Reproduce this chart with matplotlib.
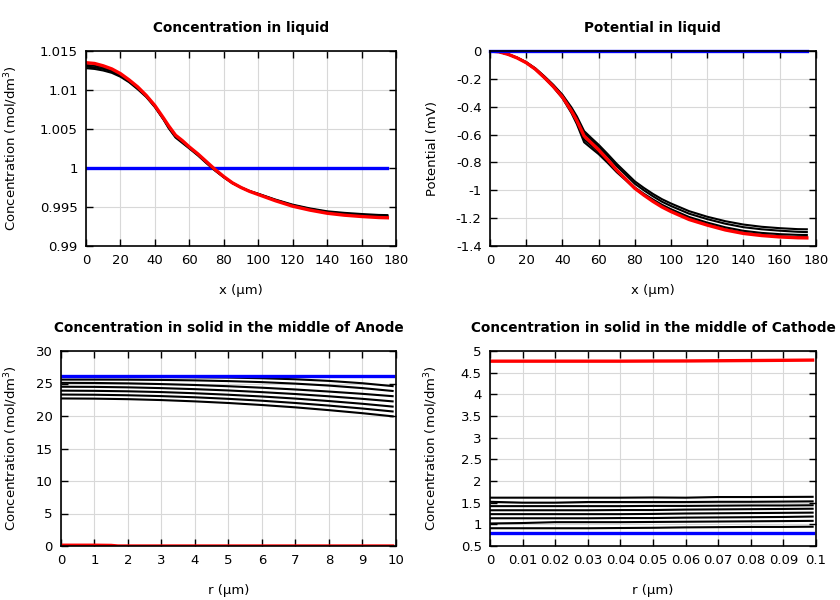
import matplotlib
matplotlib.use("Agg")
import matplotlib.pyplot as plt
from matplotlib.ticker import FuncFormatter, MultipleLocator

plt.rcParams['font.family'] = ['DejaVu Sans']

# ---------------- data ----------------
# Top-left: concentration in liquid vs x (um)
x_liq = [0, 5, 10, 15, 20, 25, 30, 35, 40, 45, 48, 52, 56, 60, 65, 70, 75, 80, 85, 90,
         95, 100, 110, 120, 130, 140, 150, 160, 170, 175]
c_liq_init = [1.0] * len(x_liq)
c_liq_mid = [
    [1.0128, 1.0127, 1.0125, 1.0122, 1.0117, 1.0110, 1.0101, 1.0091, 1.0078, 1.0062, 1.0051, 1.0039,
     1.0032, 1.0025, 1.0016, 1.0006, 0.99965, 0.9988, 0.99805, 0.9975, 0.99705, 0.9967, 0.99595,
     0.9953, 0.99482, 0.99445, 0.99425, 0.9941, 0.99398, 0.99396],
    [1.0130, 1.0129, 1.0127, 1.0124, 1.0118, 1.0111, 1.0102, 1.0092, 1.0079, 1.0063, 1.0052, 1.0040,
     1.0033, 1.0026, 1.0017, 1.0007, 0.9997, 0.99885, 0.99808, 0.9975, 0.99703, 0.99667, 0.9959,
     0.99523, 0.99475, 0.99437, 0.99415, 0.9940, 0.99388, 0.99385],
    [1.0132, 1.0131, 1.0129, 1.0125, 1.0119, 1.0112, 1.0103, 1.0092, 1.0079, 1.0063, 1.0053, 1.0041,
     1.0034, 1.0026, 1.0017, 1.0007, 0.99975, 0.99885, 0.9981, 0.9975, 0.9970, 0.99663, 0.99585,
     0.99517, 0.99467, 0.99428, 0.99405, 0.99388, 0.99378, 0.99375],
]
c_liq_final = [1.0135, 1.0134, 1.0131, 1.0127, 1.0121, 1.0113, 1.0104, 1.0093, 1.0080, 1.0064, 1.0054,
               1.0042, 1.0035, 1.0027, 1.0018, 1.0008, 0.9998, 0.9989, 0.9981, 0.9975, 0.9970, 0.9966,
               0.9958, 0.9951, 0.9946, 0.9942, 0.99395, 0.99378, 0.99365, 0.99362]

# Top-right: potential in liquid (mV)
phi_init = [0.0] * len(x_liq)
phi_mid = [
    [0, -0.006, -0.023, -0.048, -0.080, -0.124, -0.181, -0.243, -0.314, -0.405, -0.47, -0.575, -0.625,
     -0.673, -0.74, -0.81, -0.873, -0.936, -0.983, -1.026, -1.064, -1.095, -1.15, -1.19, -1.222,
     -1.246, -1.262, -1.272, -1.279, -1.28],
    [0, -0.006, -0.023, -0.048, -0.081, -0.126, -0.184, -0.247, -0.319, -0.415, -0.483, -0.59, -0.638,
     -0.686, -0.754, -0.826, -0.889, -0.953, -1.0, -1.043, -1.082, -1.113, -1.168, -1.207, -1.24,
     -1.265, -1.28, -1.29, -1.298, -1.30],
    [0, -0.006, -0.024, -0.05, -0.084, -0.13, -0.19, -0.256, -0.333, -0.438, -0.515, -0.635, -0.68,
     -0.725, -0.79, -0.86, -0.92, -0.98, -1.025, -1.066, -1.104, -1.136, -1.192, -1.232, -1.266,
     -1.291, -1.306, -1.315, -1.32, -1.321],
    [0, -0.006, -0.024, -0.05, -0.085, -0.132, -0.193, -0.26, -0.338, -0.445, -0.525, -0.655, -0.698,
     -0.74, -0.803, -0.87, -0.928, -0.988, -1.033, -1.075, -1.114, -1.147, -1.205, -1.245, -1.28,
     -1.305, -1.32, -1.33, -1.336, -1.337],
]
phi_final = [0, -0.006, -0.024, -0.05, -0.084, -0.13, -0.19, -0.255, -0.33, -0.43, -0.50, -0.61, -0.66,
             -0.71, -0.78, -0.855, -0.92, -0.986, -1.035, -1.08, -1.12, -1.153, -1.21, -1.25, -1.285,
             -1.31, -1.325, -1.335, -1.341, -1.342]

# Bottom-left: solid concentration, middle of anode
r_an = [0, 1, 2, 3, 4, 5, 6, 7, 8, 9, 9.9]
cs_an_init = [26.15] * len(r_an)
cs_an_mid = [
    [26.0, 26.0, 26.0, 25.99, 25.96, 25.91, 25.81, 25.65, 25.40, 25.04, 24.6],
    [25.6, 25.6, 25.59, 25.55, 25.48, 25.37, 25.21, 24.98, 24.68, 24.29, 23.85],
    [25.1, 25.08, 25.02, 24.91, 24.77, 24.58, 24.35, 24.08, 23.76, 23.41, 23.05],
    [24.5, 24.48, 24.41, 24.29, 24.13, 23.93, 23.67, 23.38, 23.03, 22.64, 22.25],
    [23.9, 23.87, 23.8, 23.68, 23.5, 23.27, 23.0, 22.68, 22.3, 21.88, 21.45],
    [23.3, 23.27, 23.19, 23.06, 22.88, 22.64, 22.35, 22.0, 21.6, 21.15, 20.7],
    [22.7, 22.67, 22.59, 22.45, 22.25, 22.0, 21.69, 21.33, 20.9, 20.43, 19.95],
]
r_an_final = [0, 0.5, 1.0, 1.5, 1.7, 2, 3, 4, 5, 6, 7, 8, 9, 9.9]
cs_an_final = [0.12, 0.12, 0.12, 0.09, 0.0, 0.0, 0.0, 0.0, 0.0, 0.0, 0.0, 0.0, 0.0, 0.0]

# Bottom-right: solid concentration, middle of cathode
r_ca = [0, 0.01, 0.02, 0.03, 0.04, 0.05, 0.06, 0.07, 0.08, 0.09, 0.099]
cs_ca_init = [0.79] * len(r_ca)
cs_ca_mid = [
    [1.615, 1.615, 1.615, 1.615, 1.615, 1.62, 1.615, 1.63, 1.63, 1.632, 1.635],
    [1.52, 1.50, 1.50, 1.515, 1.515, 1.515, 1.515, 1.52, 1.52, 1.525, 1.53],
    [1.42, 1.42, 1.42, 1.42, 1.42, 1.425, 1.425, 1.43, 1.435, 1.435, 1.44],
    [1.325, 1.325, 1.325, 1.325, 1.33, 1.33, 1.34, 1.345, 1.35, 1.355, 1.36],
    [1.235, 1.235, 1.235, 1.235, 1.235, 1.24, 1.25, 1.255, 1.26, 1.265, 1.27],
    [1.14, 1.14, 1.14, 1.14, 1.145, 1.145, 1.155, 1.16, 1.165, 1.17, 1.18],
    [1.02, 1.03, 1.05, 1.05, 1.05, 1.055, 1.06, 1.065, 1.07, 1.075, 1.08],
    [0.91, 0.91, 0.91, 0.91, 0.915, 0.92, 0.93, 0.935, 0.94, 0.94, 0.945],
]
cs_ca_final = [4.765, 4.765, 4.765, 4.765, 4.765, 4.768, 4.77, 4.775, 4.78, 4.785, 4.79]

# ---------------- plotting ----------------
fig = plt.figure(figsize=(8.4, 6.0), dpi=100)
ax_tl = fig.add_axes([0.1024, 0.59, 0.369, 0.325])
ax_tr = fig.add_axes([0.5833, 0.59, 0.388, 0.325])
ax_bl = fig.add_axes([0.0726, 0.09, 0.3988, 0.325])
ax_br = fig.add_axes([0.5833, 0.09, 0.388, 0.325])

BLUE = '#0000ff'
RED = '#ff0000'
LW_BK = 1.5
LW_C = 2.4
fmt = FuncFormatter(lambda v, p: '%g' % round(v, 6))


def style(ax, title, xlabel, ylabel, xlim, ylim, xstep, ystep, ylab_x):
    ax.set_xlim(*xlim)
    ax.set_ylim(*ylim)
    ax.xaxis.set_major_locator(MultipleLocator(xstep))
    ax.yaxis.set_major_locator(MultipleLocator(ystep))
    ax.xaxis.set_major_formatter(fmt)
    ax.yaxis.set_major_formatter(fmt)
    ax.grid(True, color='#d8d8d8', linewidth=0.8)
    ax.set_axisbelow(True)
    ax.tick_params(direction='in', top=True, right=True, length=5, width=1.0,
                   labelsize=9.5, pad=6)
    for s in ax.spines.values():
        s.set_linewidth(1.2)
    ax.set_title(title, fontsize=9.8, fontweight='bold', pad=14)
    ax.set_xlabel(xlabel, fontsize=9.5, labelpad=12)
    ax.set_ylabel(ylabel, fontsize=9.5)
    ax.yaxis.set_label_coords(ylab_x, 0.5)


# Top-left
ax_tl.plot(x_liq, c_liq_init, color=BLUE, lw=LW_C)
for ys in c_liq_mid:
    ax_tl.plot(x_liq, ys, color='black', lw=LW_BK)
ax_tl.plot(x_liq, c_liq_final, color=RED, lw=LW_C)
style(ax_tl, 'Concentration in liquid', 'x (µm)', 'Concentration (mol/dm$^3$)',
      (0, 180), (0.99, 1.015), 20, 0.005, -0.213)

# Top-right
for ys in phi_mid:
    ax_tr.plot(x_liq, ys, color='black', lw=LW_BK)
ax_tr.plot(x_liq, phi_final, color=RED, lw=LW_C)
ax_tr.plot(x_liq, phi_init, color=BLUE, lw=LW_C, clip_on=False)
style(ax_tr, 'Potential in liquid', 'x (µm)', 'Potential (mV)',
      (0, 180), (-1.4, 0), 20, 0.2, -0.155)

# Bottom-left
for ys in cs_an_mid:
    ax_bl.plot(r_an, ys, color='black', lw=LW_BK)
ax_bl.plot(r_an, cs_an_init, color=BLUE, lw=LW_C)
ax_bl.plot(r_an_final, cs_an_final, color=RED, lw=LW_C)
style(ax_bl, 'Concentration in solid in the middle of Anode', 'r (µm)',
      'Concentration (mol/dm$^3$)', (0, 10), (0, 30), 1, 5, -0.122)

# Bottom-right
for ys in cs_ca_mid:
    ax_br.plot(r_ca, ys, color='black', lw=LW_BK)
ax_br.plot(r_ca, cs_ca_init, color=BLUE, lw=LW_C)
ax_br.plot(r_ca, cs_ca_final, color=RED, lw=LW_C)
style(ax_br, 'Concentration in solid in the middle of Cathode', 'r (µm)',
      'Concentration (mol/dm$^3$)', (0, 0.1), (0.5, 5), 0.01, 0.5, -0.153)

fig.savefig('out.png', dpi=100)
